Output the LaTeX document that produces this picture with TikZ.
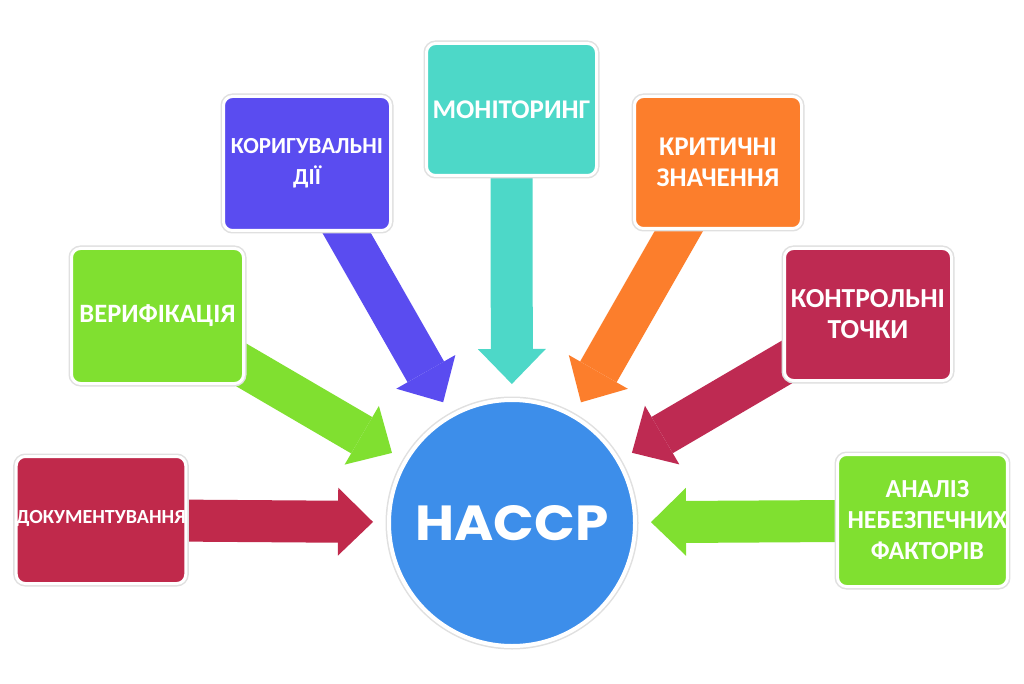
\documentclass[tikz,border=0pt]{standalone}
\usepackage{fontspec}
\setmainfont{Carlito}
\newfontfamily\hfont{Poppins}
\usetikzlibrary{arrows.meta}
\pgfdeclarelayer{back}
\pgfdeclarelayer{bg}
\pgfsetlayers{back,bg,main}
\definecolor{crim}{HTML}{C0294B}
\definecolor{crimb}{HTML}{BE2A52}
\definecolor{lgreen}{HTML}{80E030}
\definecolor{purp}{HTML}{5A4CF0}
\definecolor{teal2}{HTML}{4DD8C8}
\definecolor{orng}{HTML}{FC7E2C}
\definecolor{hubblue}{HTML}{3D8EEA}
\begin{document}
\begin{tikzpicture}[x=1pt,y=-1pt,
  box/.style={rectangle, rounded corners=9pt, draw=white, line width=3pt,
    inner sep=0pt, align=center, text=white,
    preaction={draw=black!12, line width=6pt}},
  fat/.style={line width=42pt,
    -{Triangle[length=35pt,width=68pt,line width=0pt]}, shorten >=14pt},
  lbl/.style={font={\bfseries\fontsize{#1}{31}\selectfont}}]
\begin{pgfonlayer}{back}
\fill[white] (0,0) rectangle (1024,684);
\end{pgfonlayer}
\useasboundingbox (0,0) rectangle (1024,684);

\node[circle, fill=hubblue, draw=white, line width=4pt, inner sep=0pt,
  minimum size=246pt, preaction={draw=black!12, line width=7pt}]
  (hub) at (512,523) {\color{white}\resizebox{193pt}{35pt}{\hfont\bfseries HACCP}};

\node[box, fill=crim, minimum width=165pt, minimum height=127pt, lbl=20,
  text depth=0pt, text height=6pt]
  (doc) at (101,520) {ДОКУМЕНТУВАННЯ};
\node[box, fill=lgreen, minimum width=172pt, minimum height=135pt, lbl=26.5]
  (ver) at (157.5,316) {ВЕРИФІКАЦІЯ};
\node[box, fill=purp, minimum width=167pt, minimum height=134pt, lbl=23]
  (kor) at (307,163.5) {КОРИГУВАЛЬНІ\\ДІЇ};
\node[box, fill=teal2, minimum width=170pt, minimum height=132pt, lbl=27]
  (mon) at (511.5,109.5) {МОНІТОРИНГ};
\node[box, fill=orng, minimum width=167pt, minimum height=132pt, lbl=27]
  (kri) at (718,162.5) {КРИТИЧНІ\\ЗНАЧЕННЯ};
\node[box, fill=crimb, minimum width=167pt, minimum height=132pt, lbl=27.5]
  (kon) at (868,314.5) {КОНТРОЛЬНІ\\ТОЧКИ};
\node[box, fill=lgreen, minimum width=168pt, minimum height=132pt, lbl=26]
  (ana) at (922.5,520.5) {\hspace*{10pt}АНАЛІЗ\\\hspace*{10pt}НЕБЕЗПЕЧНИХ\\\hspace*{10pt}ФАКТОРІВ};

\begin{pgfonlayer}{bg}
\draw[fat, crim] (doc.center) -- (hub);
\draw[fat, lgreen] (ver.center) -- (hub);
\draw[fat, purp] (kor.center) -- (hub);
\draw[fat, teal2] (mon.center) -- (hub);
\draw[fat, orng] (kri.center) -- (hub);
\draw[fat, crimb] (kon.center) -- (hub);
\draw[fat, lgreen] (ana.center) -- (hub);
\end{pgfonlayer}
\end{tikzpicture}
\end{document}
